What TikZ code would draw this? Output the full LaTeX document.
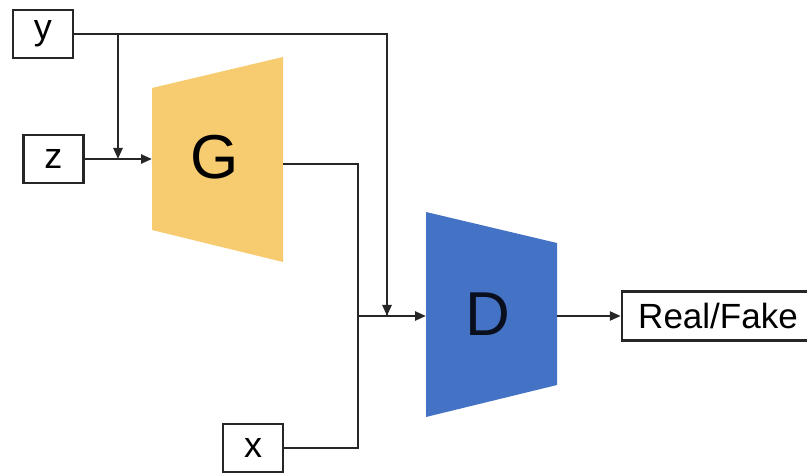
\documentclass[tikz,border=0pt]{standalone}
\usepackage{fontspec}
\setmainfont{Liberation Sans}
\usetikzlibrary{arrows.meta}
\definecolor{gcol}{HTML}{F7CB70}
\definecolor{dcol}{HTML}{4472C4}
\definecolor{dtext}{HTML}{0A0F1E}
\tikzset{
  iobox/.style={draw=black!85, line width=2.4pt, minimum width=60pt, minimum height=48pt, inner sep=0pt, font=\fontsize{36}{40}\selectfont},
  wire/.style={draw=black!85, line width=2.4pt},
  arr/.style={wire, -{Triangle[length=11pt,width=9pt]}},
  biglabel/.style={inner sep=0pt, font=\fontsize{62}{64}\selectfont}
}
\begin{document}
\begin{tikzpicture}[x=1pt,y=-1pt]
\useasboundingbox (0,0) rectangle (807,473);
\clip (0,0) rectangle (807,473);
% trapezoids
\fill[gcol] (152,88) -- (283,57) -- (283,262) -- (152,230) -- cycle;
\fill[dcol] (426,212) -- (557,243) -- (557,385) -- (426,417) -- cycle;
\node[biglabel] (G) at (215,157) {G};
\node[biglabel, text=dtext] (D) at (488,314) {D};
% boxes
\node[iobox] (y) at (43,34) {\raisebox{3pt}{y}};
\node[iobox] (z) at (53.5,159) {z};
\node[iobox] (x) at (253,448) {x};
\node[iobox, minimum width=192pt, minimum height=49pt, font=\fontsize{35}{38}\selectfont] (rf) at (718,316) {Real/Fake};
% coordinates
\coordinate (Gin) at (152,159);
\coordinate (Gout) at (283,164);
\coordinate (Din) at (426,316);
\coordinate (Dout) at (557,316);
\coordinate (jz) at (118,159);
\coordinate (jy) at (118,34);
\coordinate (cy) at (387,34);
\coordinate (jd) at (387,316);
\coordinate (cg) at (358,164);
\coordinate (cx) at (358,448);
\coordinate (jx) at (358,316);
% connectors
\draw[wire, line join=miter] (y.east) -- (cy) -- (jd);
\draw[arr] (cy) -- (jd);
\draw[arr] (jy) -- (jz);
\draw[arr] (z.east) -- (Gin);
\draw[wire, line join=miter] (Gout) -- (cg) -- (cx) -- (x.east);
\draw[arr] (jx) -- (Din);
\draw[arr] (Dout) -- (rf.west);
\end{tikzpicture}
\end{document}
